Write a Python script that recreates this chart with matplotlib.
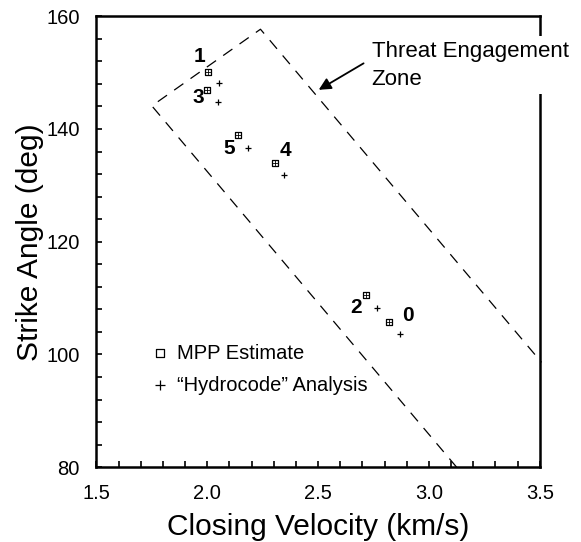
import numpy as np
import matplotlib.pyplot as plt
from matplotlib.ticker import MultipleLocator

plt.rcParams['font.family'] = ['Liberation Sans', 'DejaVu Sans']

# MPP estimate (squares) and hydrocode analysis (pluses)
case_ids = ['1', '3', '5', '4', '2', '0']
mpp_vel = [2.002, 1.997, 2.140, 2.304, 2.716, 2.819]
mpp_ang = [150.2, 146.9, 138.9, 134.0, 110.5, 105.8]
hydro_vel = [2.052, 2.050, 2.184, 2.347, 2.766, 2.869]
hydro_ang = [148.1, 144.8, 136.7, 131.9, 108.3, 103.6]

# label positions for the case numbers
lbl_vel = [1.963, 1.958, 2.101, 2.352, 2.672, 2.906]
lbl_ang = [152.9, 145.6, 136.6, 136.1, 108.4, 107.0]

# threat engagement zone outline (open at the bottom)
zone_vel = [3.125, 1.750, 2.240, 3.508]
zone_ang = [80.0, 144.1, 157.7, 98.6]

fig = plt.figure(figsize=(5.81, 5.42), dpi=100)
ax = fig.add_axes([0.166, 0.138, 0.763, 0.832])

ax.plot(zone_vel, zone_ang, color='black', lw=0.9, dashes=(9, 7), clip_on=False)

ax.scatter(mpp_vel, mpp_ang, marker='s', s=24, facecolors='white',
           edgecolors='black', linewidths=0.9, zorder=3)
ax.scatter(mpp_vel, mpp_ang, marker='+', s=14, color='black',
           linewidths=0.6, zorder=4)
ax.scatter(hydro_vel, hydro_ang, marker='+', s=22, color='black',
           linewidths=0.9, zorder=3)

for i in range(len(case_ids)):
    ax.text(lbl_vel[i], lbl_ang[i], case_ids[i], fontsize=15, fontweight='bold',
            ha='center', va='center')

# legend drawn by hand like the original
ax.scatter([1.786], [100.2], marker='s', s=34, facecolors='white',
           edgecolors='black', linewidths=0.9)
ax.text(1.862, 100.2, 'MPP Estimate', fontsize=14.5, va='center')
ax.scatter([1.786], [94.5], marker='+', s=48, color='black', linewidths=0.9)
ax.text(1.862, 94.5, '\u201cHydrocode\u201d Analysis', fontsize=14.5, va='center')

# annotation
ax.annotate('', xy=(2.492, 146.7), xytext=(2.716, 151.9),
            arrowprops=dict(arrowstyle='-|>', color='black', lw=1.3,
                            mutation_scale=18))
ax.text(2.741, 151.3, 'Threat Engagement\nZone', fontsize=16, va='center', ha='left',
        linespacing=1.45, bbox=dict(facecolor='white', edgecolor='none', pad=3),
        clip_on=False, zorder=5)

ax.set_xlim(1.5, 3.5)
ax.set_ylim(80, 160)
ax.xaxis.set_major_locator(MultipleLocator(0.5))
ax.xaxis.set_minor_locator(MultipleLocator(0.1))
ax.yaxis.set_major_locator(MultipleLocator(20))
ax.yaxis.set_minor_locator(MultipleLocator(4))
ax.xaxis.set_major_formatter(plt.FormatStrFormatter('%.1f'))

ax.tick_params(which='both', direction='in', top=False, right=False,
               length=4, width=1.2, labelsize=14.5)
ax.tick_params(axis='x', pad=12)
ax.tick_params(axis='y', pad=12)
for s in ax.spines.values():
    s.set_linewidth(1.8)

ax.set_xlabel('Closing Velocity (km/s)', fontsize=21.5, labelpad=7)
ax.set_ylabel('Strike Angle (deg)', fontsize=21.5, labelpad=2)

fig.savefig('out.png', dpi=100)
